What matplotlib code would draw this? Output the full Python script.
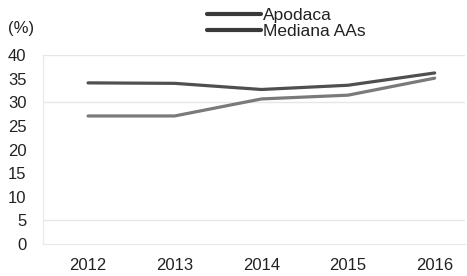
import matplotlib
matplotlib.use("Agg")
import matplotlib.pyplot as plt

years = [2012, 2013, 2014, 2015, 2016]
apodaca = [27.1, 27.1, 30.7, 31.5, 35.1]
mediana = [34.1, 34.0, 32.7, 33.6, 36.2]
yticks = [0, 5, 10, 15, 20, 25, 30, 35, 40]

plt.rcParams['font.family'] = ['Liberation Sans', 'DejaVu Sans']

fig = plt.figure(figsize=(4.67, 2.76), dpi=100)
ax = fig.add_axes([43/467, (276-244)/276, (465-43)/467, (244-55)/276])

ax.plot(years, apodaca, color='#7a7a7a', lw=2.3, label='Apodaca', solid_capstyle='round')
ax.plot(years, mediana, color='#4f4f4f', lw=2.3, label='Mediana AAs', solid_capstyle='round')

ax.set_xlim(2011.48, 2016.35)
ax.set_ylim(0, 40)
ax.set_yticks(yticks)
ax.set_xticks(years)
ax.tick_params(axis='both', length=0, labelsize=12, colors='#222222')
ax.tick_params(axis='x', pad=10)
ax.tick_params(axis='y', pad=12)
for v in [5, 30, 40]:
    ax.axhline(v, color='#e6e6e6', lw=1, zorder=0)
for s in ['top', 'right']:
    ax.spines[s].set_visible(False)
ax.spines['left'].set_color('#e8e8e8')
ax.spines['bottom'].set_color('#e8e8e8')

fig.text(8/467, 1 - 28/276, '(%)', fontsize=12, color='#222222', va='center', ha='left')

leg = fig.legend(loc='upper left', bbox_to_anchor=(207/467, 1 - 8/276), frameon=False,
                 fontsize=12.5, handlelength=3.1, handletextpad=0.1, labelspacing=0.05,
                 borderaxespad=0, borderpad=0)
for h in leg.get_lines():
    h.set_color('#3a3a3a')
    h.set_linewidth(3)
for t in leg.get_texts():
    t.set_color('#222222')

fig.savefig('out.png', dpi=100)
